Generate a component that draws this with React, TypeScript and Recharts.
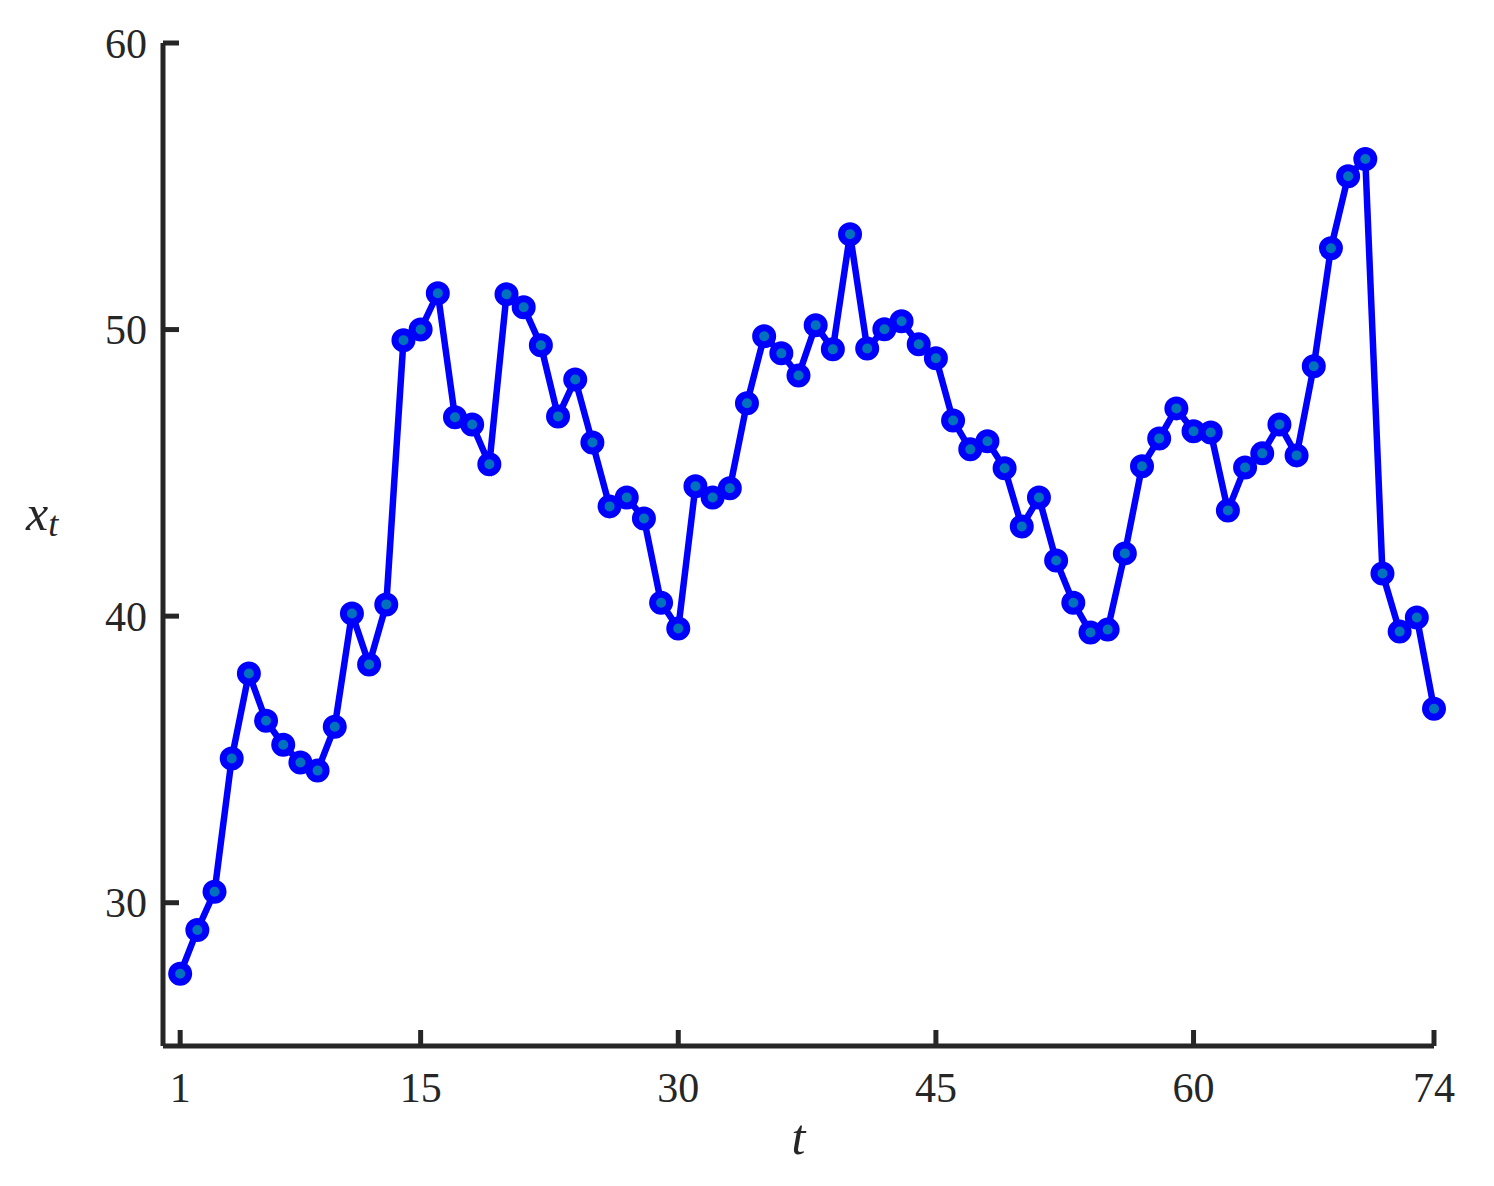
import React from "react"
import { LineChart, Line, XAxis, YAxis } from "recharts"

// x_t observed at t = 1..74
const XT_VALUES = [
	27.52, 29.05, 30.38, 35.03, 38.0, 36.35, 35.51, 34.89, 34.61, 36.14,
	40.09, 38.31, 40.41, 49.63, 50.0, 51.27, 46.94, 46.69, 45.3, 51.23,
	50.78, 49.45, 46.97, 48.26, 46.06, 43.83, 44.14, 43.41, 40.47, 39.57,
	44.53, 44.14, 44.46, 47.43, 49.77, 49.17, 48.4, 50.15, 49.31, 53.33,
	49.34, 50.01, 50.29, 49.49, 49.0, 46.83, 45.82, 46.1, 45.16, 43.13,
	44.14, 41.94, 40.47, 39.43, 39.53, 42.19, 45.23, 46.2, 47.25, 46.45,
	46.41, 43.69, 45.19, 45.68, 46.69, 45.61, 48.72, 52.84, 55.35, 55.95,
	41.49, 39.46, 39.95, 36.77,
]
const X_TICKS = [1, 15, 30, 45, 60, 74]
const Y_TICKS = [30, 40, 50, 60]

const data = XT_VALUES.map((v, i) => ({ t: i + 1, x: v }))

const AXIS = "#262626"
const LINE = "#0000FF"
const MARKER_FILL = "#0072BD"
const FONT = "'Liberation Serif', 'DejaVu Serif', serif"
const TICK_LEN = 16

function YTick(props: any) {
	const { x, y, payload } = props
	return (
		<g>
			<line x1={x} y1={y} x2={x + TICK_LEN} y2={y} stroke={AXIS} strokeWidth={5} />
			<text x={x - 16} y={y} dy="0.35em" textAnchor="end" fontFamily={FONT} fontSize={42} fill={AXIS}>
				{payload.value}
			</text>
		</g>
	)
}

function XTick(props: any) {
	const { x, y, payload } = props
	return (
		<g>
			<line x1={x} y1={y} x2={x} y2={y - TICK_LEN} stroke={AXIS} strokeWidth={5} />
			<text x={x} y={y + 56} textAnchor="middle" fontFamily={FONT} fontSize={42} fill={AXIS}>
				{payload.value}
			</text>
		</g>
	)
}

function XLabel(props: any) {
	const { viewBox } = props
	const cx = viewBox.x + viewBox.width / 2
	return (
		<text x={cx} y={viewBox.y + 108} textAnchor="middle" fontFamily={FONT} fontStyle="italic" fontSize={50} fill={AXIS}>
			t
		</text>
	)
}

function YLabel() {
	return (
		<text x={26} y={530} fontFamily={FONT} fontStyle="italic" fontSize={50} fill={AXIS}>
			x
			<tspan fontSize={36} dy={6}>t</tspan>
		</text>
	)
}

export default function App() {
	return (
		<div style={{ position: "absolute", left: 0, top: 0, width: 1494, height: 1186, background: "#fff" }}>
			<LineChart width={1494} height={1186} data={data} margin={{ top: 43, right: 60, bottom: 0, left: 0 }}>
				<XAxis
					dataKey="t"
					type="number"
					domain={[0, 74]}
					ticks={X_TICKS}
					interval={0}
					height={140}
					tickSize={0}
					tickMargin={0}
					tickLine={false}
					axisLine={{ stroke: AXIS, strokeWidth: 5 }}
					tick={<XTick />}
					label={<XLabel />}
				/>
				<YAxis
					type="number"
					domain={[25, 60]}
					ticks={Y_TICKS}
					interval={0}
					width={163}
					tickSize={0}
					tickMargin={0}
					tickLine={false}
					axisLine={{ stroke: AXIS, strokeWidth: 5 }}
					tick={<YTick />}
					label={<YLabel />}
				/>
				<Line
					dataKey="x"
					type="linear"
					stroke={LINE}
					strokeWidth={6.5}
					dot={{ r: 8.5, fill: MARKER_FILL, stroke: LINE, strokeWidth: 7 }}
					activeDot={false}
					isAnimationActive={false}
				/>
			</LineChart>
		</div>
	)
}
